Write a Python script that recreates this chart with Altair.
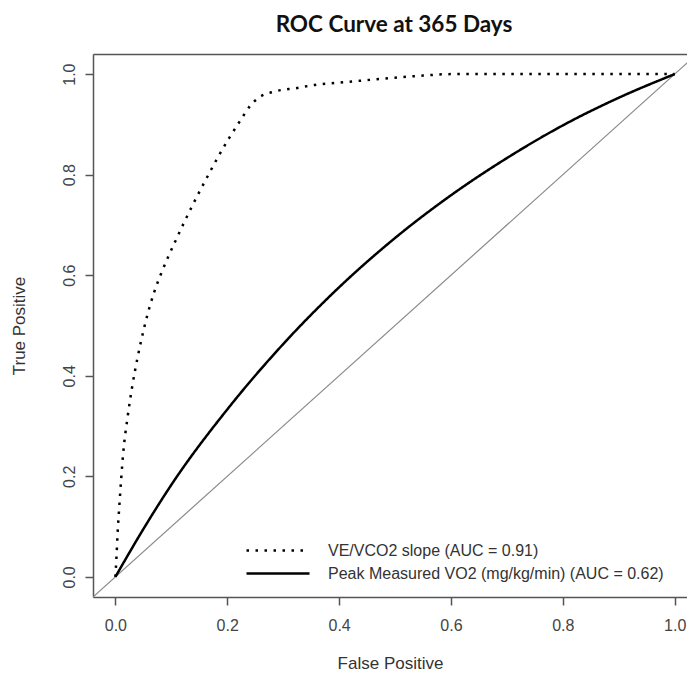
import altair as alt
import pandas as pd

# ---- data ----
SERIES = ["VE/VCO2 slope (AUC = 0.91)", "Peak Measured VO2 (mg/kg/min) (AUC = 0.62)"]

VE_FPR = [0.0, 0.002, 0.004, 0.007, 0.014, 0.022, 0.030, 0.040, 0.052, 0.062, 0.069,
          0.082, 0.095, 0.109, 0.122, 0.137, 0.147, 0.165, 0.184, 0.203, 0.223, 0.241,
          0.255, 0.287, 0.323, 0.359, 0.398, 0.45, 0.50, 0.55, 0.60, 0.70, 0.80, 0.90, 1.0]
VE_TPR = [0.0, 0.04, 0.087, 0.14, 0.246, 0.319, 0.378, 0.438, 0.498, 0.54, 0.565,
          0.604, 0.638, 0.672, 0.703, 0.737, 0.759, 0.797, 0.836, 0.872, 0.907, 0.937,
          0.952, 0.966, 0.972, 0.979, 0.983, 0.988, 0.993, 0.997, 1.0, 1.0, 1.0, 1.0, 1.0]

PEAK_FPR = [0.0, 0.05, 0.1, 0.2, 0.3, 0.4, 0.5, 0.6, 0.7, 0.8, 0.9, 1.0]
PEAK_TPR = [0.0, 0.095, 0.183, 0.333, 0.463, 0.576, 0.674, 0.759, 0.833, 0.898, 0.953, 1.0]

DIAG = [-0.04, 1.04]
X_TICKS = [0.0, 0.2, 0.4, 0.6, 0.8, 1.0]
Y_TICKS = [0.0, 0.2, 0.4, 0.6, 0.8, 1.0]

rows = []
for i, (a, b) in enumerate(zip(VE_FPR, VE_TPR)):
    rows.append({"series": SERIES[0], "fpr": a, "tpr": b, "idx": i})
for i, (a, b) in enumerate(zip(PEAK_FPR, PEAK_TPR)):
    rows.append({"series": SERIES[1], "fpr": a, "tpr": b, "idx": i})
curves = pd.DataFrame(rows)
diag_df = pd.DataFrame({"x": DIAG, "y": DIAG})

FONT = "Liberation Sans"
FRAME = "#555555"

xs = alt.Scale(domain=[-0.04, 1.022], nice=False, zero=False)
ys = alt.Scale(domain=[-0.04, 1.04], nice=False, zero=False)

x_axis = alt.Axis(values=X_TICKS, format=".1f", title="False Positive", grid=False,
                  tickSize=8, tickColor=FRAME, tickWidth=1.5, domainColor=FRAME, domainWidth=1.5,
                  labelFont=FONT, labelFontSize=16, labelColor="#444444", labelPadding=12,
                  titleFont=FONT, titleFontSize=17, titleFontWeight="normal", titleColor="#333333",
                  titlePadding=22)
y_axis = alt.Axis(values=Y_TICKS, format=".1f", title="True Positive", grid=False,
                  tickSize=8, tickColor=FRAME, tickWidth=1.5, domainColor=FRAME, domainWidth=1.5,
                  labelFont=FONT, labelFontSize=16, labelColor="#444444", labelPadding=8,
                  labelAngle=-90,
                  titleFont=FONT, titleFontSize=17, titleFontWeight="normal", titleColor="#333333",
                  titlePadding=33)

diag = alt.Chart(diag_df).mark_line(color="#8a8a8a", strokeWidth=1.2, clip=True).encode(
    x=alt.X("x:Q", scale=xs, axis=x_axis),
    y=alt.Y("y:Q", scale=ys, axis=y_axis),
)

lines = alt.Chart(curves).mark_line(color="black", strokeWidth=2.5, clip=True,
                                    interpolate="monotone").encode(
    x=alt.X("fpr:Q", scale=xs, axis=None),
    y=alt.Y("tpr:Q", scale=ys, axis=None),
    order="idx:Q",
    strokeDash=alt.StrokeDash(
        "series:N",
        scale=alt.Scale(domain=SERIES, range=[[2.5, 6.5], [1, 0]]),
        legend=alt.Legend(
            title=None, orient="none", legendX=152, legendY=486,
            symbolType="stroke", symbolSize=3969, symbolStrokeWidth=2.5,
            symbolStrokeColor="black", clipHeight=21,
            labelFont=FONT, labelFontSize=16, labelColor="#333333", labelOffset=17,
            labelLimit=600,
        ),
    ),
)

top = alt.Chart(diag_df).mark_line(opacity=0).encode(
    x=alt.X("x:Q", scale=xs, axis=alt.Axis(orient="top", labels=False, ticks=False, title=None,
                                           grid=False, domainColor=FRAME, domainWidth=1.5)),
    y=alt.Y("y:Q", scale=ys, axis=None),
)

chart = alt.layer(diag, lines, top).resolve_axis(x="independent", y="independent").properties(
    width=594,
    height=543,
    title=alt.TitleParams("ROC Curve at 365 Days", font="Lato", fontSize=22.5, fontWeight="bold",
                          color="#111111", offset=18, anchor="middle", dx=4, frame="group"),
    autosize=alt.AutoSizeParams(type="none"),
    padding={"left": 85, "top": 46, "right": 0, "bottom": 76},
).configure_view(stroke=None).configure(background="white")

chart.save("out.html", embed_options={"renderer": "svg", "actions": False})
